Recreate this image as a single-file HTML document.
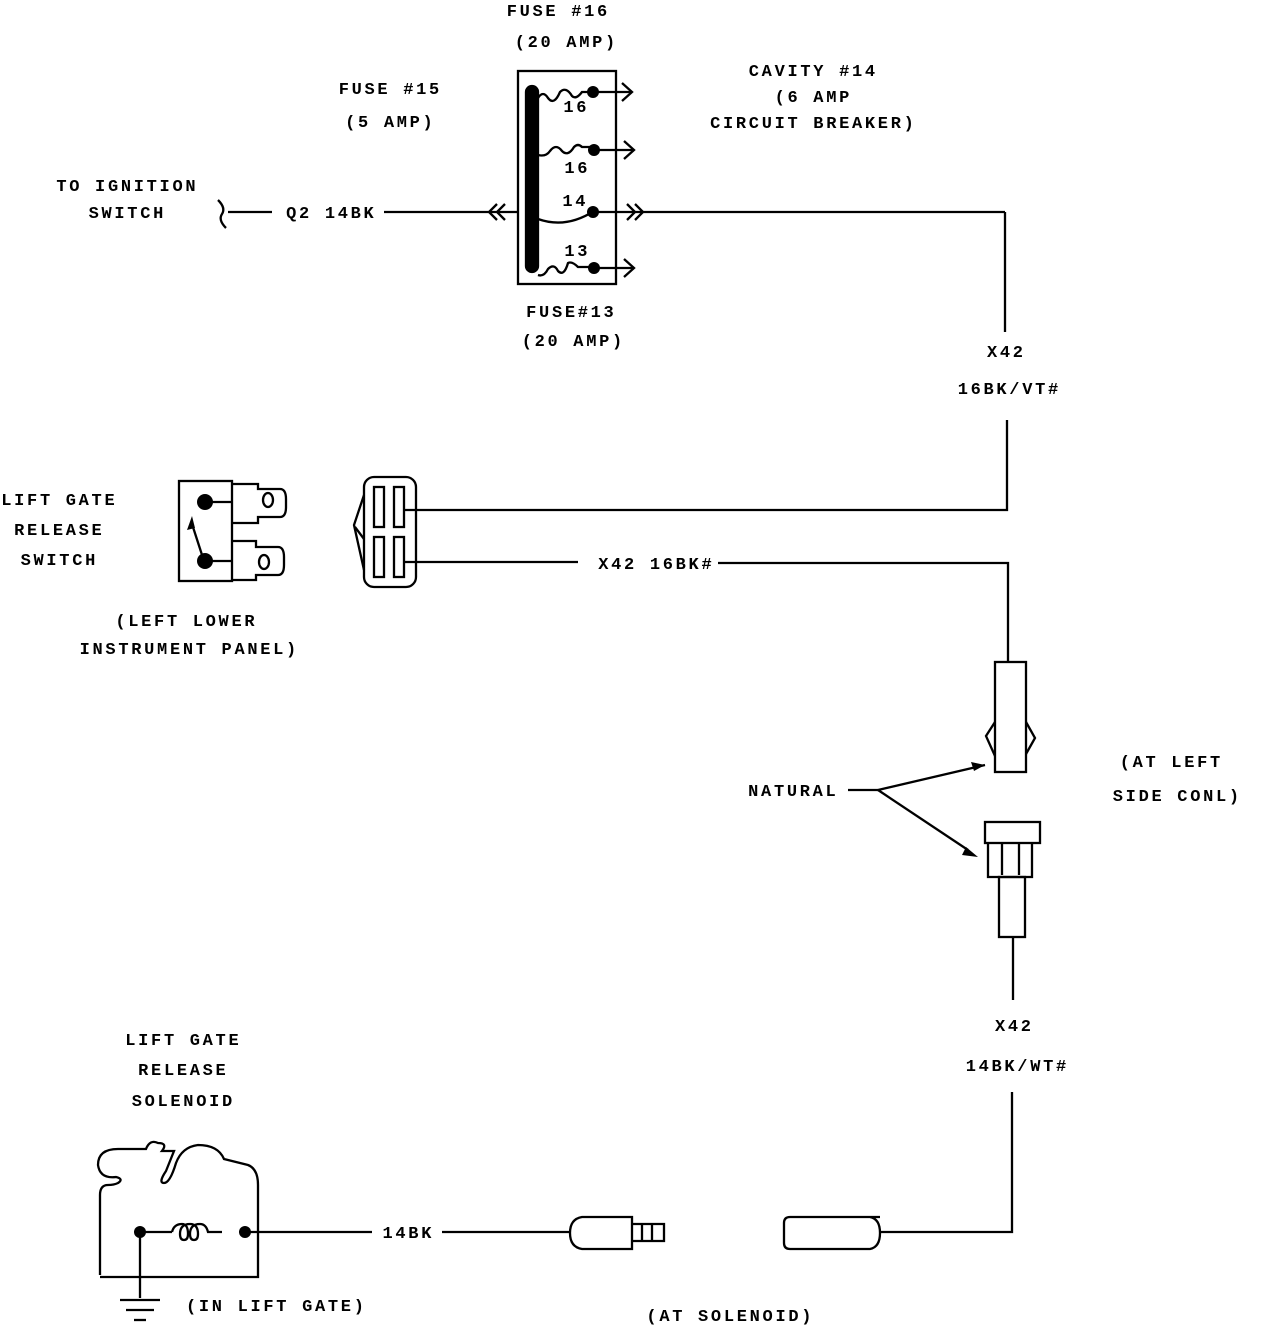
<!DOCTYPE html>
<html><head><meta charset="utf-8"><style>
html,body{margin:0;padding:0;background:#fff}
svg{display:block}
text{font-family:"Liberation Mono",monospace;font-weight:bold;font-size:17px;fill:#000;letter-spacing:2.7px}
</style></head><body>
<svg width="1264" height="1330" viewBox="0 0 1264 1330" xmlns="http://www.w3.org/2000/svg">
<g fill="none" stroke="#000" stroke-width="2.3">
<rect x="518" y="71" width="98" height="213"/>
<rect x="526" y="86" width="12" height="186" rx="6" fill="#000"/>
<path d="M538 98 q5 -8 10 0 q6 8 12 -6 q6 -6 12 4 q4 4 10 -4 h12"/>
<path d="M538 155 q8 2 12 -4 q6 -8 12 0 q6 6 12 -4 q4 -4 8 0 h12"/>
<path d="M538 219 q28 10 56 -8"/>
<path d="M538 275 q6 2 10 -6 q6 -6 10 2 q6 6 10 -8 q4 -2 10 4 h16"/>
<line x1="594" y1="92" x2="632" y2="92"/><path d="M622 83 l10 9 -10 9"/>
<line x1="594" y1="150" x2="634" y2="150"/><path d="M624 141 l10 9 -10 9"/>
<line x1="594" y1="268" x2="634" y2="268"/><path d="M624 259 l10 9 -10 9"/>
<path d="M218 200 q8 8 4 14 q-4 6 4 14"/>
<line x1="228" y1="212" x2="272" y2="212"/>
<line x1="384" y1="212" x2="518" y2="212"/>
<path d="M497 204 l-8 8 8 8 M505 204 l-8 8 8 8"/>
<line x1="594" y1="212" x2="1005" y2="212"/>
<path d="M627 204 l8 8 -8 8 M635 204 l8 8 -8 8"/>
<line x1="1005" y1="212" x2="1005" y2="332"/>
<path d="M1007 420 V510 H405"/>
<line x1="405" y1="562" x2="578" y2="562"/>
<path d="M718 563 H1008 V662"/>
<rect x="179" y="481" width="53" height="100"/>
<path d="M232 484 h26 v5 h22 q6 0 6 10 v8 q0 10 -6 10 h-22 v6 h-26"/>
<ellipse cx="268" cy="500" rx="5" ry="7"/>
<path d="M232 541 h24 v6 h22 q6 0 6 10 v8 q0 10 -6 10 h-22 v5 h-24"/>
<ellipse cx="264" cy="562" rx="5" ry="7"/>
<line x1="205" y1="502" x2="232" y2="502"/>
<line x1="205" y1="561" x2="232" y2="561"/>
<line x1="203" y1="558" x2="192" y2="524"/>
<rect x="364" y="477" width="52" height="110" rx="10"/>
<rect x="374" y="487" width="10" height="40"/><rect x="394" y="487" width="10" height="40"/>
<rect x="374" y="537" width="10" height="40"/><rect x="394" y="537" width="10" height="40"/>
<path d="M364 495 l-10 30 l10 45 M355 527 l9 12"/>
<rect x="995" y="662" width="31" height="110"/>
<path d="M995 722 l-9 14 l9 20 M1026 722 l9 16 l-9 16"/>
<rect x="985" y="822" width="55" height="21"/>
<path d="M988 843 v34 h44 v-34 M1002 843 v32 M1019 843 v32"/>
<rect x="999" y="877" width="26" height="60"/>
<line x1="1013" y1="937" x2="1013" y2="1000"/>
<path d="M1012 1092 V1232 H880"/>
<line x1="848" y1="790" x2="878" y2="790"/>
<line x1="878" y1="790" x2="985" y2="765"/>
<line x1="878" y1="790" x2="968" y2="850"/>
<path d="M880 1217 H790 q-6 0 -6 6 v20 q0 6 6 6 H870 q10 -2 10 -16 q0 -14 -10 -16"/>
<path d="M632 1217 H582 q-12 2 -12 16 q0 14 12 16 H632 Z"/>
<path d="M632 1224 h32 v17 h-32 M642 1224 v17 M652 1224 v17"/>
<line x1="442" y1="1232" x2="570" y2="1232"/>
<line x1="245" y1="1232" x2="372" y2="1232"/>
<path d="M100 1275 V1195 q0 -10 8 -10 q6 0 10 -2 q6 -4 -2 -6 q-16 2 -18 -12 q0 -16 20 -16 h28 q4 -10 12 -6 q10 0 4 8 h12 q-4 10 -8 20 q-8 12 -2 12 q6 0 12 -20 q6 -16 22 -18 q20 0 26 14 l24 6 q10 4 10 20 V1277 H100"/>
<line x1="140" y1="1232" x2="172" y2="1232"/>
<path d="M172 1232 q2 -8 10 -8 q6 0 6 10 q0 6 -4 6 q-4 0 -4 -6 q0 -10 10 -10 q8 0 8 10 q0 6 -4 6 q-4 0 -4 -6 q0 -10 10 -10 q6 0 8 8 h14"/>
<line x1="140" y1="1232" x2="140" y2="1298"/>
<line x1="120" y1="1300" x2="160" y2="1300"/>
<line x1="126" y1="1310" x2="154" y2="1310"/>
<line x1="134" y1="1320" x2="146" y2="1320"/>
</g>
<g fill="#000">
<circle cx="593" cy="92" r="6"/><circle cx="594" cy="150" r="6"/><circle cx="593" cy="212" r="6"/><circle cx="594" cy="268" r="6"/>
<circle cx="205" cy="502" r="8"/><circle cx="205" cy="561" r="8"/>
<path d="M192 516 l-5 14 8 -2z"/>
<path d="M985 765 l-14 -3 3 9z"/>
<path d="M978 857 l-12 -10 -4 8z"/>
<circle cx="140" cy="1232" r="6"/><circle cx="245" cy="1232" r="6"/>
</g>
<g transform="translate(1.3,0)">
<text x="557" y="16" text-anchor="middle">FUSE #16</text>
<text x="565" y="47" text-anchor="middle">(20 AMP)</text>
<text x="389" y="94" text-anchor="middle">FUSE #15</text>
<text x="389" y="127" text-anchor="middle">(5 AMP)</text>
<text x="812" y="76" text-anchor="middle">CAVITY #14</text>
<text x="812" y="102" text-anchor="middle">(6 AMP</text>
<text x="812" y="128" text-anchor="middle">CIRCUIT BREAKER)</text>
<text x="126" y="191" text-anchor="middle">TO IGNITION</text>
<text x="126" y="218" text-anchor="middle">SWITCH</text>
<text x="330" y="218" text-anchor="middle">Q2 14BK</text>
<text x="575" y="112" text-anchor="middle">16</text>
<text x="576" y="173" text-anchor="middle">16</text>
<text x="574" y="206" text-anchor="middle">14</text>
<text x="576" y="256" text-anchor="middle">13</text>
<text x="570" y="317" text-anchor="middle">FUSE#13</text>
<text x="572" y="346" text-anchor="middle">(20 AMP)</text>
<text x="1005" y="357" text-anchor="middle">X42</text>
<text x="1008" y="394" text-anchor="middle">16BK/VT#</text>
<text x="58" y="505" text-anchor="middle">LIFT GATE</text>
<text x="58" y="535" text-anchor="middle">RELEASE</text>
<text x="58" y="565" text-anchor="middle">SWITCH</text>
<text x="185" y="626" text-anchor="middle">(LEFT LOWER</text>
<text x="188" y="654" text-anchor="middle">INSTRUMENT PANEL)</text>
<text x="655" y="569" text-anchor="middle">X42 16BK#</text>
<text x="792" y="796" text-anchor="middle">NATURAL</text>
<text x="1170" y="767" text-anchor="middle">(AT LEFT</text>
<text x="1176" y="801" text-anchor="middle">SIDE CONL)</text>
<text x="1013" y="1031" text-anchor="middle">X42</text>
<text x="1016" y="1071" text-anchor="middle">14BK/WT#</text>
<text x="182" y="1045" text-anchor="middle">LIFT GATE</text>
<text x="182" y="1075" text-anchor="middle">RELEASE</text>
<text x="182" y="1106" text-anchor="middle">SOLENOID</text>
<text x="407" y="1238" text-anchor="middle">14BK</text>
<text x="275" y="1311" text-anchor="middle">(IN LIFT GATE)</text>
<text x="729" y="1321" text-anchor="middle">(AT SOLENOID)</text>
</g>
</svg>
</body></html>
